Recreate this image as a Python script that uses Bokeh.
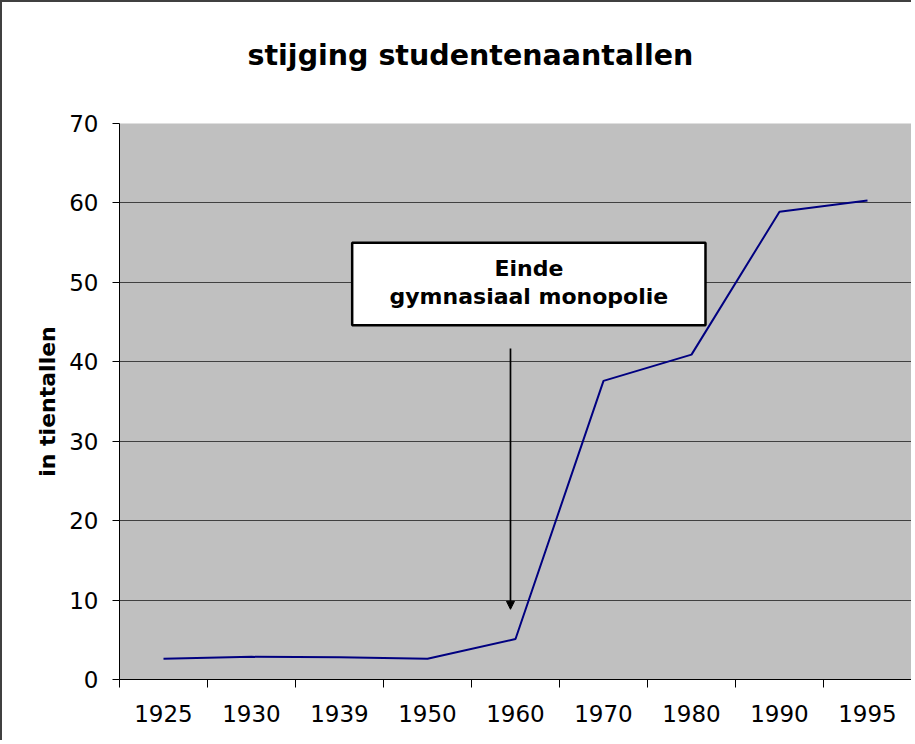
from bokeh.plotting import figure
from bokeh.models import (Range1d, FixedTicker, SingleIntervalTicker, BoxAnnotation,
                          Label, Arrow, NormalHead)
from bokeh.embed import file_html
from bokeh.resources import INLINE

years = ["1925", "1930", "1939", "1950", "1960", "1970", "1980", "1990", "1995"]
counts = [2.6, 2.85, 2.8, 2.6, 5.1, 37.6, 40.9, 58.9, 60.3]
title_text = "stijging studentenaantallen"
y_label = "in tientallen"
note_lines = ["Einde", "gymnasiaal monopolie"]

FONT = "DejaVu Sans"

n = len(years)
centers = [i + 0.5 for i in range(n)]          # category slots on the x scale
bounds = list(range(n + 1))                    # slot boundaries (tick marks)

p = figure(width=911, height=740,
           x_range=Range1d(0, n), y_range=Range1d(0, 70),
           output_backend="svg", toolbar_location=None,
           min_border_left=117, min_border_top=121, min_border_right=2, min_border_bottom=63,
           background_fill_color="#C0C0C0", border_fill_color="white",
           outline_line_color=None)
p.styles = {"border-left": "2px solid #404040", "border-top": "2px solid #404040"}

# title (an empty second line lifts it higher above the plot area)
p.title.text = title_text + "\n"
p.title.align = "left"
p.title.offset = 128
p.title.standoff = 38
p.title.text_font = FONT
p.title.text_font_size = "28.5px"
p.title.text_font_style = "bold"
p.title.text_color = "black"

# y axis
yax = p.yaxis[0]
yax.ticker = SingleIntervalTicker(interval=10)
yax.axis_line_color = "black"
yax.major_tick_line_color = "black"
yax.major_tick_out = 7
yax.major_tick_in = 0
yax.minor_tick_line_color = None
yax.major_label_text_font = FONT
yax.major_label_text_font_size = "23px"
yax.major_label_text_color = "black"
yax.major_label_standoff = 14
yax.axis_label = y_label
yax.axis_label_text_font = FONT
yax.axis_label_text_font_size = "22px"
yax.axis_label_text_font_style = "bold"
yax.axis_label_text_color = "black"
yax.axis_label_standoff = 6

p.ygrid.grid_line_color = "#404040"
p.ygrid.grid_line_width = 1
p.xgrid.grid_line_color = None

# x axis: labels centred in slots, tick marks between slots
xax = p.xaxis[0]
xax.ticker = FixedTicker(ticks=centers, minor_ticks=bounds)
xax.major_label_overrides = {c: y for c, y in zip(centers, years)}
xax.axis_line_color = "black"
xax.major_tick_line_color = None
xax.major_tick_out = 0
xax.major_tick_in = 0
xax.minor_tick_line_color = "black"
xax.minor_tick_out = 8
xax.minor_tick_in = 0
xax.major_label_text_font = FONT
xax.major_label_text_font_size = "23px"
xax.major_label_text_color = "black"
xax.major_label_standoff = 17

# data line
p.line(x=centers, y=counts, line_color="#000080", line_width=2)

# annotation box
box = BoxAnnotation(left=2.644, right=6.659, bottom=44.6, top=55.0,
                    fill_color="white", fill_alpha=1.0,
                    line_color="black", line_alpha=1.0, line_width=2.5)
p.add_layout(box)
for txt, yy in zip(note_lines, [51.78, 48.19]):
    p.add_layout(Label(x=4.652, y=yy, text=txt,
                       text_align="center", text_baseline="alphabetic",
                       text_font=FONT, text_font_size="22px", text_font_style="bold",
                       text_color="black"))

# arrow
p.add_layout(Arrow(x_start=4.443, y_start=41.67, x_end=4.443, y_end=8.84,
                   line_color="black", line_width=1.7,
                   end=NormalHead(size=8, fill_color="black", line_color="black")))

open("out.html", "w").write(file_html(p, INLINE))
